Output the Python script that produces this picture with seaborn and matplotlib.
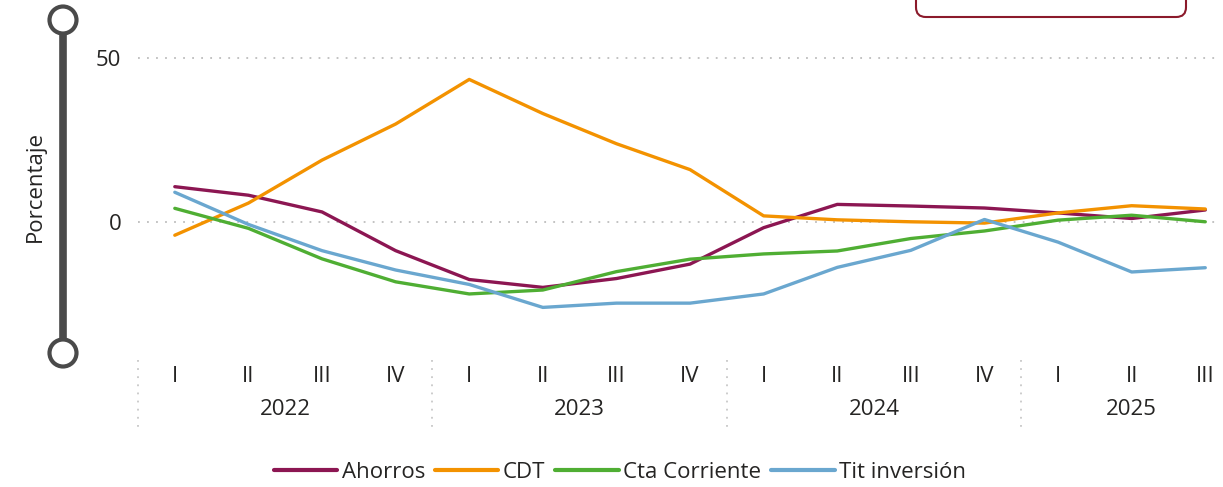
import numpy as np
import pandas as pd
import matplotlib
matplotlib.use("Agg")
import matplotlib.pyplot as plt
import seaborn as sns
from matplotlib.lines import Line2D
from matplotlib.patches import Circle, FancyBboxPatch
import matplotlib.transforms as mtransforms

years = ["2022", "2023", "2024", "2025"]
quarters = ["I", "II", "III", "IV", "I", "II", "III", "IV", "I", "II", "III", "IV", "I", "II", "III"]
ahorros = [10.7, 8.1, 3.0, -8.8, -17.6, -20.0, -17.3, -12.9, -1.8, 5.3, 4.8, 4.2, 2.7, 1.0, 3.6]
cdt = [-4.1, 5.7, 18.8, 29.8, 43.4, 33.0, 23.8, 15.9, 1.8, 0.6, 0.0, -0.4, 2.7, 4.9, 3.9]
cta_corriente = [4.1, -2.0, -11.3, -18.3, -22.0, -20.8, -15.2, -11.4, -9.8, -8.9, -5.1, -2.8, 0.5, 2.0, 0.0]
tit_inversion = [9.0, -0.8, -8.8, -14.7, -19.1, -26.1, -24.8, -24.8, -22.0, -13.9, -8.7, 0.7, -6.2, -15.3, -14.0]
series_names = ["Ahorros", "CDT", "Cta Corriente", "Tit inversión"]
colors = ["#8C1652", "#F39200", "#4FAE33", "#6AA7CF"]

sns.set_theme(style="white")
plt.rcParams["font.family"] = ["Open Sans", "DejaVu Sans"]
TXT = "#252423"
FS = 16

idx = np.arange(len(quarters))
df = pd.concat([
    pd.DataFrame({"x": idx, "valor": vals, "serie": name})
    for name, vals in zip(series_names, [ahorros, cdt, cta_corriente, tit_inversion])
])

fig = plt.figure(figsize=(12.23, 4.87), dpi=100)
ax = fig.add_axes([138 / 1223, 1 - 353 / 487, (1220 - 138) / 1223, 351 / 487])

sns.lineplot(data=df, x="x", y="valor", hue="serie", hue_order=series_names,
             palette=colors, linewidth=2.4, ax=ax, legend=False, sort=False)

ax.set_xlim(-0.5, 14.2)
ax.set_ylim(-40, 67)
ax.set_yticks([0, 50])
ax.set_yticklabels(["0", "50"], fontsize=FS, color=TXT)
for yv in [0, 50]:
    ax.axhline(yv, color="#bdbdbd", linestyle=(0, (1, 4)), linewidth=1.3, zorder=0)
for s in ax.spines.values():
    s.set_visible(False)
ax.tick_params(axis="y", length=0, pad=12)
ax.set_xticks(idx)
ax.set_xticklabels(quarters, fontsize=FS, color=TXT)
ax.tick_params(axis="x", length=0, pad=9)
ax.set_xlabel("")
ax.set_ylabel("")

trans = mtransforms.blended_transform_factory(ax.transData, ax.transAxes)
year_centers = [1.5, 5.5, 9.5, 13]
for yr, xc in zip(years, year_centers):
    ax.text(xc, -0.162, yr, transform=trans, ha="center", va="center", fontsize=FS, color=TXT)
for xs in [-0.5, 3.5, 7.5, 11.5]:
    ax.add_line(Line2D([xs, xs], [-0.02, -0.22], transform=trans, color="#c8c8c8",
                       linestyle=(0, (1, 3.5)), linewidth=1.3, clip_on=False))

# Decorative axis bar
fx = 63 / 1223
ytop = 1 - 20 / 487
ybot = 1 - 353 / 487
fig.add_artist(Line2D([fx, fx], [ytop, ybot], transform=fig.transFigure, color="#4a4a4a",
                      linewidth=5.5, solid_capstyle="butt"))
for yy in [ytop, ybot]:
    fig.add_artist(Circle((63, 487 * yy), 13.5, transform=None, facecolor="white",
                          edgecolor="#4a4a4a", linewidth=3.0, zorder=5))
fig.text(35 / 1223, 1 - 187 / 487, "Porcentaje", rotation=90, ha="center", va="center",
         fontsize=FS, color=TXT)

# Partial rounded box at top right
fig.add_artist(FancyBboxPatch((916 / 1223, 1 - 17 / 487), (1186 - 916) / 1223, 40 / 487,
                              boxstyle="round,pad=0,rounding_size=0.008", transform=fig.transFigure,
                              facecolor="white", edgecolor="#8B1A2B", linewidth=1.5,
                              mutation_aspect=2.5))

handles = [Line2D([0], [0], color=c, linewidth=3) for c in colors]
fig.legend(handles, series_names, loc="center", bbox_to_anchor=(620 / 1223, 1 - 472 / 487),
           ncol=4, frameon=False, fontsize=FS, handlelength=2.85, handletextpad=0.2,
           columnspacing=0.45, labelcolor=TXT)

fig.savefig("out.png", dpi=100)
